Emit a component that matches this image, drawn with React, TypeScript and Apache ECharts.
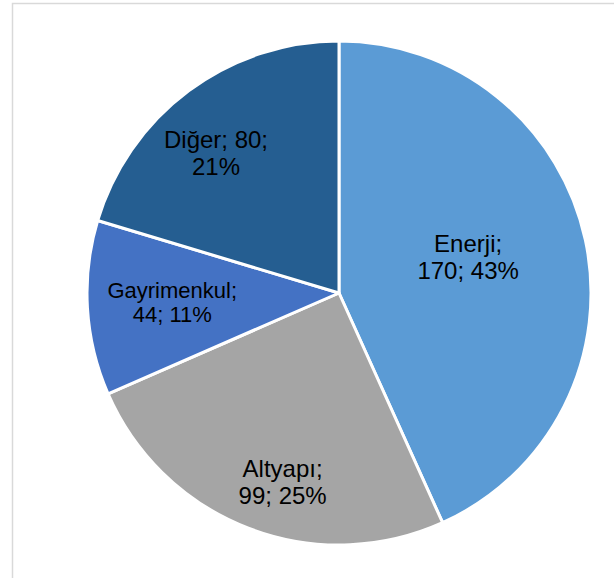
import React, { useEffect, useRef } from "react";
import * as echarts from "echarts";

const categories = ["Enerji", "Altyapı", "Gayrimenkul", "Diğer"];
const values = [170, 99, 44, 80];
const colors = ["#5B9BD5", "#A5A5A5", "#4472C4", "#255E91"];
const labelFormats = ["{b};\n{c}; {d}%", "{b};\n{c}; {d}%", "{b};\n{c}; {d}%", "{b}; {c};\n{d}%"];
const labelSizes = [24, 24, 22, 24];
const labelLineHeights = [27, 27, 24, 27];
const labelShift = [
  [3, -9],
  [-10, 69],
  [-38, 2],
  [-46, -36],
];

export default function App() {
  const ref = useRef<HTMLDivElement>(null);
  useEffect(() => {
    if (!ref.current) return;
    const chart = echarts.init(ref.current, undefined, { renderer: "svg" });
    chart.setOption({
      animation: false,
      backgroundColor: "#ffffff",
      graphic: [
        {
          type: "rect",
          shape: { x: 12.5, y: 3.5, width: 800, height: 800 },
          style: { fill: "none", stroke: "#d9d9d9", lineWidth: 1.5 },
          z: -1,
        },
      ],
      series: [
        {
          type: "pie",
          center: [339, 293],
          radius: [0, 252],
          startAngle: 90,
          clockwise: true,
          percentPrecision: 0,
          avoidLabelOverlap: false,
          itemStyle: { borderColor: "#ffffff", borderWidth: 3 },
          label: {
            show: true,
            position: "inside",
            color: "#000000",
            fontFamily: "Liberation Sans, Arial, sans-serif",
          },
          labelLine: { show: false },
          emphasis: { disabled: true },
          labelLayout: (p: any) => ({
            dx: labelShift[p.dataIndex][0],
            dy: labelShift[p.dataIndex][1],
          }),
          data: categories.map((name, i) => ({
            name,
            value: values[i],
            itemStyle: { color: colors[i] },
            label: {
              formatter: labelFormats[i],
              fontSize: labelSizes[i],
              lineHeight: labelLineHeights[i],
            },
          })),
        },
      ],
    });
    return () => chart.dispose();
  }, []);
  return (
    <div
      ref={ref}
      style={{ position: "absolute", left: 0, top: 0, width: 614, height: 578 }}
    />
  );
}
